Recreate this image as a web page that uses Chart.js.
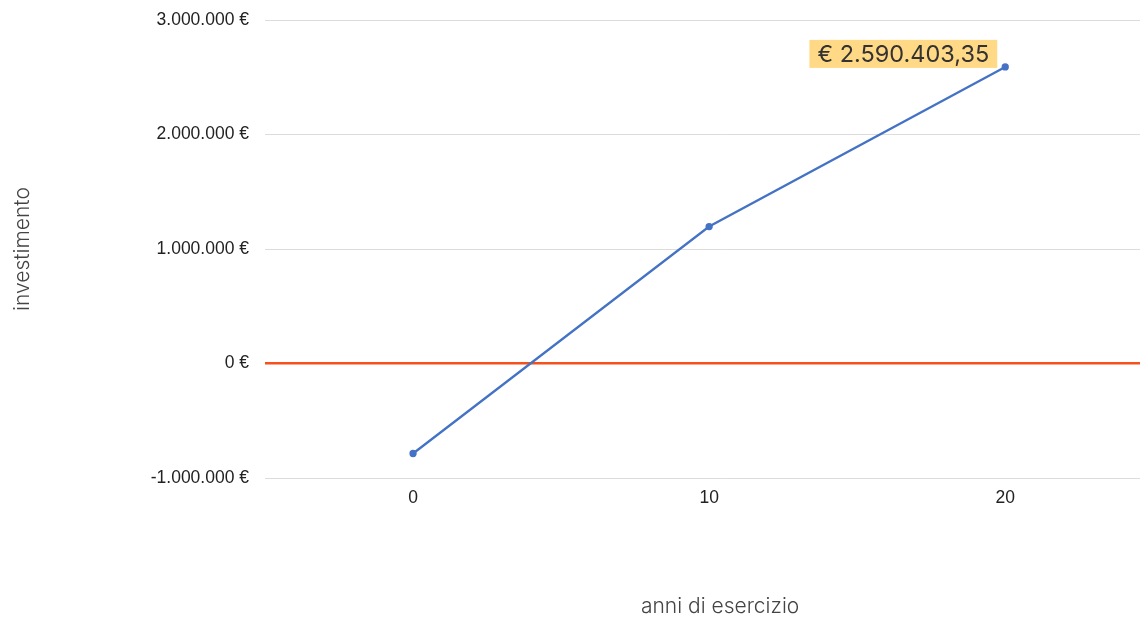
<!DOCTYPE html>
<html>
<head>
<meta charset="utf-8">
<script src="https://cdn.jsdelivr.net/npm/chart.js@4"></script>
<style>
  html, body { margin: 0; padding: 0; background: #fff; overflow: hidden; }
  #wrap { width: 1180px; height: 619px; }
</style>
</head>
<body>
<div id="wrap"><canvas id="investimentoChart"></canvas></div>
<script>
// anni (asse x) e valori dell'investimento
const anni = [0, 10, 20];
const investimento = [-786000, 1196000, 2590403.35];
const yTicks = [-1000000, 0, 1000000, 2000000, 3000000];

// numero con separatore delle migliaia "." e decimali ","
function formatIt(v, dec) {
    const parts = Math.abs(v).toFixed(dec).split('.');
    const int = parts[0].replace(/\B(?=(\d{3})+(?!\d))/g, '.');
    return (v < 0 ? '-' : '') + int + (parts[1] ? ',' + parts[1] : '');
}

// etichetta gialla sull'ultimo punto
const lastLabel = {
    id: 'lastLabel',
    afterDatasetsDraw(chart) {
        const meta = chart.getDatasetMeta(0);
        const pt = meta.data[meta.data.length - 1];
        const txt = '€ ' + formatIt(investimento[investimento.length - 1], 2);
        const ctx = chart.ctx;
        ctx.save();
        ctx.font = '23.5px Inter';
        const w = ctx.measureText(txt).width + 16;
        const h = 28;
        const x = pt.x - 8 - w;
        const y = pt.y - h + 1;
        ctx.fillStyle = '#ffd985';
        ctx.fillRect(x, y, w, h);
        ctx.fillStyle = '#333333';
        ctx.textBaseline = 'middle';
        ctx.fillText(txt, x + 8, y + h / 2 + 1);
        ctx.restore();
    }
};

const config = {
    type: 'line',
    data: {
        datasets: [{
            data: anni.map((a, i) => ({ x: a, y: investimento[i] })),
            borderColor: '#4472c4',
            backgroundColor: '#4472c4',
            borderWidth: 2.3,
            pointRadius: 2.5,
            pointHoverRadius: 2.5,
            tension: 0
        }]
    },
    options: {
        responsive: true,
        maintainAspectRatio: false,
        animation: false,
        layout: { padding: { top: 20, left: 0, right: 0, bottom: 0 } },
        plugins: {
            legend: { display: false },
            tooltip: { enabled: false }
        },
        scales: {
            x: {
                type: 'linear',
                min: -5,
                max: 25.74,
                afterBuildTicks: s => { s.ticks = anni.map(v => ({ value: v })); },
                afterFit: s => { s.height = 141; s.paddingLeft = 0; s.paddingRight = 0; },
                grid: { display: false, drawTicks: false },
                border: { display: false },
                ticks: {
                    padding: 10,
                    color: '#222',
                    font: { family: 'Liberation Sans', size: 17.5 }
                },
                title: {
                    display: true,
                    text: 'anni di esercizio',
                    color: '#444',
                    font: { family: 'Inter', size: 21, weight: 300 },
                    padding: { top: 0, bottom: 0 }
                }
            },
            y: {
                min: -1000000,
                max: 3000000,
                afterBuildTicks: s => { s.ticks = yTicks.map(v => ({ value: v })); },
                afterFit: s => { s.width = 265; s.paddingTop = 0; s.paddingBottom = 0; },
                border: { display: false },
                grid: {
                    drawTicks: false,
                    color: c => c.tick && c.tick.value === 0 ? '#f4511e' : '#dcdcdc',
                    lineWidth: c => c.tick && c.tick.value === 0 ? 2.5 : 1
                },
                ticks: {
                    padding: 16,
                    color: '#222',
                    font: { family: 'Liberation Sans', size: 17.5 },
                    callback: v => formatIt(v, 0) + ' €'
                },
                title: {
                    display: true,
                    text: 'investimento',
                    color: '#444',
                    font: { family: 'Inter', size: 21, weight: 300 },
                    padding: { top: 10, bottom: 0 }
                }
            }
        }
    },
    plugins: [lastLabel]
};

const investimentoChart = new Chart(document.getElementById('investimentoChart'), config);
</script>
</body>
</html>
